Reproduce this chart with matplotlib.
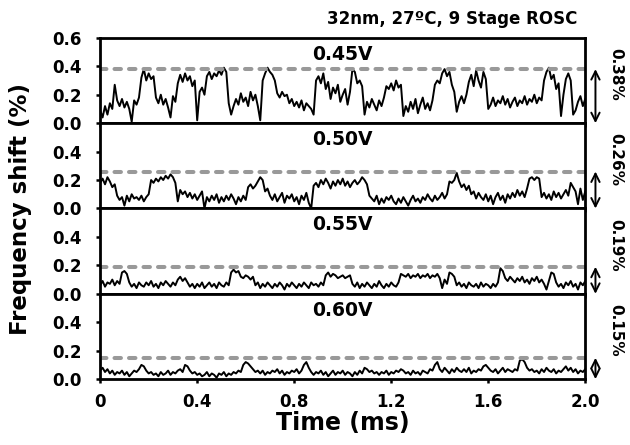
import numpy as np
import matplotlib
matplotlib.use("Agg")
import matplotlib.pyplot as plt

plt.rcParams['font.family'] = ['DejaVu Sans']
plt.rcParams['font.weight'] = 'bold'

# time axis in ms, one sample every 0.01 ms
time_ms = np.arange(201) * 0.01

shift_045 = [
    0.09, 0.04, 0.12, 0.06, 0.14, 0.10, 0.27, 0.16, 0.12, 0.17,
    0.11, 0.15, 0.10, 0.01, 0.16, 0.13, 0.18, 0.32, 0.38, 0.30,
    0.35, 0.31, 0.33, 0.18, 0.14, 0.20, 0.13, 0.17, 0.11, 0.04,
    0.19, 0.15, 0.28, 0.34, 0.29, 0.35, 0.30, 0.33, 0.26, 0.30,
    0.02, 0.22, 0.25, 0.20, 0.33, 0.36, 0.31, 0.35, 0.33, 0.37,
    0.34, 0.39, 0.36, 0.14, 0.06, 0.12, 0.17, 0.13, 0.21, 0.15,
    0.18, 0.12, 0.22, 0.16, 0.20, 0.12, 0.02, 0.30, 0.35, 0.39,
    0.36, 0.34, 0.30, 0.21, 0.18, 0.22, 0.19, 0.20, 0.14, 0.17,
    0.12, 0.15, 0.11, 0.16, 0.09, 0.14, 0.12, 0.10, 0.06, 0.30,
    0.33, 0.28, 0.35, 0.24, 0.29, 0.17, 0.25, 0.21, 0.27, 0.15,
    0.20, 0.24, 0.13, 0.22, 0.38, 0.36, 0.28, 0.30, 0.26, 0.06,
    0.15, 0.11, 0.17, 0.13, 0.09, 0.16, 0.12, 0.18, 0.26, 0.24,
    0.28, 0.23, 0.30, 0.25, 0.27, 0.05, 0.12, 0.08, 0.15, 0.10,
    0.17, 0.07, 0.13, 0.18, 0.10, 0.14, 0.09, 0.16, 0.27, 0.30,
    0.28, 0.35, 0.38, 0.33, 0.36, 0.27, 0.22, 0.08, 0.15, 0.19,
    0.14, 0.20, 0.29, 0.34, 0.26, 0.37, 0.30, 0.25, 0.36, 0.31,
    0.10, 0.13, 0.18, 0.12, 0.16, 0.14, 0.19, 0.13, 0.17, 0.11,
    0.15, 0.18, 0.12, 0.16, 0.14, 0.19, 0.13, 0.17, 0.15, 0.20,
    0.14, 0.18, 0.16, 0.30, 0.36, 0.39, 0.31, 0.34, 0.24, 0.28,
    0.05, 0.20, 0.31, 0.35, 0.30, 0.06, 0.09, 0.15, 0.19, 0.12,
    0.17]

shift_050 = [
    0.18, 0.21, 0.17, 0.22, 0.19, 0.15, 0.17, 0.09, 0.06, 0.08,
    0.02, 0.09, 0.05, 0.10, 0.07, 0.08, 0.06, 0.09, 0.05, 0.08,
    0.10, 0.20, 0.18, 0.21, 0.19, 0.22, 0.20, 0.23, 0.21, 0.24,
    0.22, 0.18, 0.05, 0.13, 0.10, 0.12, 0.08, 0.11, 0.07, 0.10,
    0.06, 0.09, 0.12, 0.00, 0.08, 0.05, 0.09, 0.06, 0.10, 0.04,
    0.08, 0.05, 0.09, 0.06, 0.10, 0.07, 0.03, 0.08, 0.05, 0.09,
    0.06, 0.15, 0.17, 0.14, 0.16, 0.19, 0.22, 0.20, 0.12, 0.14,
    0.09, 0.06, 0.10, 0.05, 0.08, 0.11, 0.04, 0.09, 0.07, 0.10,
    0.05, 0.08, 0.03, 0.09, 0.06, 0.11, 0.04, 0.00, 0.16, 0.18,
    0.15, 0.20, 0.17, 0.21, 0.18, 0.14, 0.19, 0.16, 0.20, 0.17,
    0.21, 0.16, 0.19, 0.15, 0.18, 0.20, 0.17, 0.19, 0.22, 0.20,
    0.17, 0.09, 0.07, 0.05, 0.09, 0.03, 0.07, 0.04, 0.08, 0.06,
    0.09, 0.05, 0.03, 0.07, 0.04, 0.08, 0.05, 0.02, 0.06, 0.09,
    0.05, 0.07, 0.04, 0.08, 0.06, 0.10, 0.07, 0.05, 0.09, 0.06,
    0.08, 0.11, 0.07, 0.10, 0.19, 0.18, 0.20, 0.25, 0.19, 0.15,
    0.17, 0.13, 0.16, 0.10, 0.12, 0.07, 0.11, 0.08, 0.06, 0.10,
    0.05, 0.09, 0.03, 0.08, 0.11, 0.06, 0.09, 0.04, 0.10, 0.07,
    0.11, 0.08, 0.13, 0.09, 0.12, 0.08, 0.14, 0.21, 0.22, 0.20,
    0.22, 0.21, 0.08, 0.11, 0.07, 0.10, 0.06, 0.12, 0.08, 0.11,
    0.07, 0.10, 0.13, 0.09, 0.18, 0.15, 0.12, 0.03, 0.14, 0.06,
    0.12]

shift_055 = [
    0.06, 0.09, 0.05, 0.08, 0.07, 0.10, 0.06, 0.09, 0.07, 0.15,
    0.16, 0.14, 0.08, 0.05, 0.07, 0.04, 0.08, 0.06, 0.05, 0.08,
    0.06, 0.09, 0.05, 0.07, 0.04, 0.08, 0.06, 0.09, 0.07, 0.05,
    0.08, 0.06, 0.10, 0.12, 0.09, 0.11, 0.08, 0.05, 0.07, 0.04,
    0.07, 0.05, 0.08, 0.04, 0.06, 0.08, 0.05, 0.07, 0.04, 0.08,
    0.06, 0.05, 0.08, 0.06, 0.15, 0.17, 0.15, 0.16, 0.12, 0.11,
    0.13, 0.12, 0.10, 0.12, 0.06, 0.08, 0.04, 0.07, 0.05, 0.08,
    0.06, 0.04, 0.07, 0.05, 0.08, 0.06, 0.03, 0.07, 0.05, 0.08,
    0.06, 0.04, 0.07, 0.05, 0.08, 0.06, 0.04, 0.08, 0.06, 0.07,
    0.05, 0.08, 0.06, 0.13, 0.15, 0.12, 0.14, 0.13, 0.11, 0.12,
    0.13, 0.11, 0.12, 0.13, 0.07, 0.05, 0.08, 0.04, 0.07, 0.05,
    0.08, 0.06, 0.04, 0.07, 0.05, 0.09, 0.06, 0.04, 0.07, 0.05,
    0.08, 0.06, 0.05, 0.08, 0.14, 0.13, 0.12, 0.14, 0.11, 0.13,
    0.12, 0.14, 0.11, 0.13, 0.12, 0.14, 0.11, 0.13, 0.12, 0.14,
    0.11, 0.04, 0.10, 0.07, 0.15, 0.14, 0.12, 0.06, 0.08, 0.05,
    0.07, 0.04, 0.08, 0.06, 0.05, 0.07, 0.04, 0.08, 0.05, 0.07,
    0.06, 0.04, 0.07, 0.05, 0.08, 0.18, 0.16, 0.11, 0.09, 0.12,
    0.10, 0.08, 0.11, 0.09, 0.12, 0.08, 0.10, 0.07, 0.11, 0.09,
    0.12, 0.08, 0.10, 0.07, 0.03, 0.09, 0.15, 0.14, 0.08, 0.05,
    0.07, 0.04, 0.08, 0.06, 0.09, 0.05, 0.07, 0.03, 0.08, 0.06,
    0.09]

shift_060 = [
    0.06, 0.08, 0.05, 0.07, 0.04, 0.06, 0.03, 0.05, 0.04, 0.06,
    0.03, 0.05, 0.02, 0.04, 0.06, 0.05, 0.07, 0.10, 0.09, 0.06,
    0.04, 0.05, 0.03, 0.04, 0.02, 0.05, 0.03, 0.04, 0.06, 0.03,
    0.05, 0.04, 0.06, 0.07, 0.05, 0.10, 0.09, 0.06, 0.04, 0.05,
    0.03, 0.04, 0.02, 0.03, 0.05, 0.02, 0.04, 0.03, 0.01, 0.04,
    0.03, 0.05, 0.02, 0.04, 0.03, 0.05, 0.04, 0.06, 0.05, 0.10,
    0.12, 0.11, 0.09, 0.07, 0.05, 0.06, 0.04, 0.06, 0.03, 0.05,
    0.04, 0.06, 0.05, 0.07, 0.04, 0.06, 0.03, 0.05, 0.04, 0.06,
    0.05, 0.07, 0.04, 0.06, 0.10, 0.12, 0.08, 0.05, 0.03, 0.05,
    0.04, 0.06, 0.03, 0.05, 0.02, 0.04, 0.06, 0.03, 0.05, 0.04,
    0.06, 0.03, 0.05, 0.04, 0.02, 0.05, 0.03, 0.06, 0.04, 0.08,
    0.07, 0.05, 0.06, 0.04, 0.05, 0.03, 0.05, 0.04, 0.06, 0.03,
    0.05, 0.04, 0.06, 0.05, 0.07, 0.06, 0.04, 0.05, 0.03, 0.06,
    0.04, 0.05, 0.03, 0.06, 0.05, 0.04, 0.07, 0.06, 0.10, 0.12,
    0.07, 0.05, 0.08, 0.06, 0.04, 0.07, 0.05, 0.08, 0.06, 0.05,
    0.07, 0.05, 0.08, 0.04, 0.06, 0.05, 0.07, 0.06, 0.09, 0.10,
    0.08, 0.06, 0.05, 0.07, 0.04, 0.06, 0.08, 0.05, 0.07, 0.06,
    0.05, 0.07, 0.06, 0.13, 0.14, 0.12, 0.08, 0.06, 0.07, 0.05,
    0.06, 0.04, 0.07, 0.05, 0.08, 0.06, 0.05, 0.07, 0.04, 0.06,
    0.05, 0.07, 0.09, 0.06, 0.08, 0.05, 0.07, 0.04, 0.06, 0.05,
    0.07]

voltages = ['0.45V', '0.50V', '0.55V', '0.60V']
series = [shift_045, shift_050, shift_055, shift_060]
peak_levels = [0.38, 0.26, 0.19, 0.15]
peak_labels = ['0.38%', '0.26%', '0.19%', '0.15%']
x_ticks = [0, 0.4, 0.8, 1.2, 1.6, 2.0]
x_tick_labels = ['0', '0.4', '0.8', '1.2', '1.6', '2.0']

fig, axes = plt.subplots(4, 1, sharex=True, figsize=(6.3, 4.45), dpi=100)
fig.subplots_adjust(left=0.159, right=0.929, bottom=0.148, top=0.915, hspace=0)

for i, ax in enumerate(axes):
    ax.plot(time_ms, series[i], color='black', lw=1.4)
    ax.axhline(peak_levels[i], color='#999999', lw=2.9,
               linestyle=(0, (1.6, 2.0)), dash_capstyle='round')
    ax.set_xlim(0, 2.0)
    ax.set_ylim(0, 0.6)
    if i == 0:
        ax.set_yticks([0, 0.2, 0.4, 0.6])
    else:
        ax.set_yticks([0, 0.2, 0.4])
    ax.yaxis.set_major_formatter(plt.FormatStrFormatter('%.1f'))
    ax.set_xticks(x_ticks)
    ax.tick_params(direction='out', length=3, width=1.8, labelsize=12)
    ax.tick_params(axis='y', pad=10)
    ax.tick_params(axis='x', pad=7)
    for sp in ax.spines.values():
        sp.set_linewidth(2)
    ax.text(0.5, 0.81, voltages[i], transform=ax.transAxes, ha='center',
            va='center', fontsize=13.5, fontweight='bold')
    # double arrow to the right of the panel showing the peak shift
    ax.annotate('', xy=(1.021, 0), xytext=(1.021, peak_levels[i]),
                xycoords=ax.get_yaxis_transform(),
                arrowprops=dict(arrowstyle='<->', lw=1.4, mutation_scale=15,
                                shrinkA=0, shrinkB=0),
                annotation_clip=False)
    ax.text(1.062, 0.57, peak_labels[i], transform=ax.transAxes,
            rotation=-90, ha='center', va='center', fontsize=11,
            fontweight='bold')

axes[-1].set_xticklabels(x_tick_labels)
axes[-1].set_xlabel('Time (ms)', fontsize=17, fontweight='bold', labelpad=0)
fig.text(0.032, 0.53, 'Frequency shift (%)', rotation=90, ha='center',
         va='center', fontsize=16.5, fontweight='bold')
fig.text(0.916, 0.958, '32nm, 27\u00baC, 9 Stage ROSC', ha='right',
         va='center', fontsize=12, fontweight='bold')

fig.savefig('out.png', dpi=100)
